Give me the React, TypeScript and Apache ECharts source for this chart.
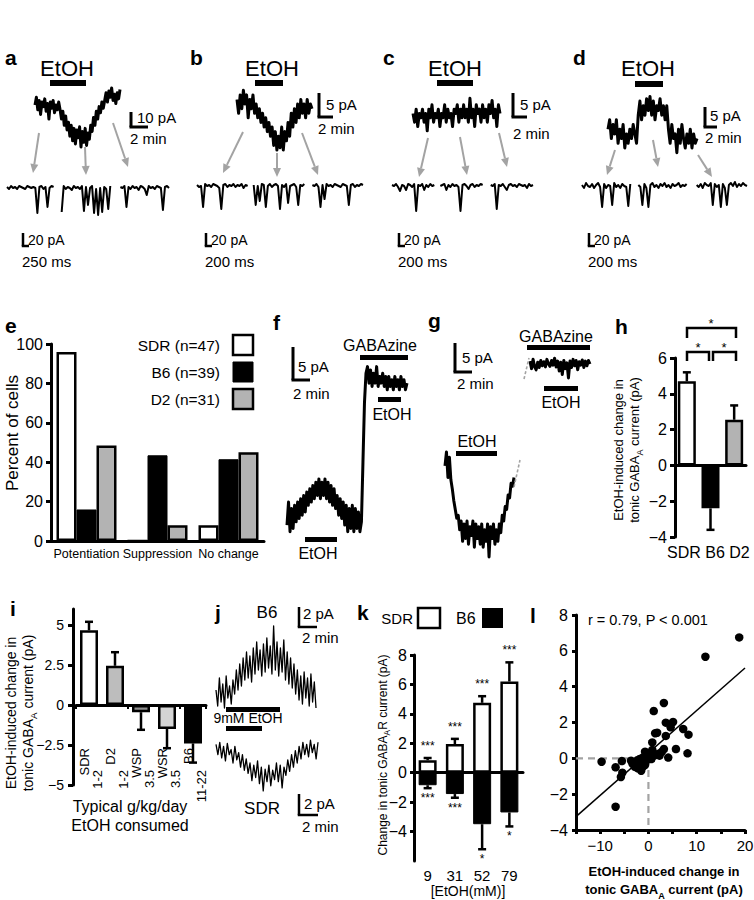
import React, { useEffect, useRef } from 'react';
import * as echarts from 'echarts';

const FONT = "'Liberation Sans', Arial, Helvetica, sans-serif";

// ---------- Panels a-d: tonic current traces (pA) ----------
const traceA = [
  -6, -1, -9, -3, -12, -4, -7, -2, -10, -5, -15, -4, -8, -3, -11, -6, -9, -4,
  -9, -15, -10, -19, -13, -22, -17, -26, -19, -29, -21, -31, -22, -27, -20, -33, -23, -30, -21, -32, -24, -28,
  -19, -23, -14, -19, -10, -15, -7, -11, -4, -8,
  -3, 2, -4, 3, -1, 5, -3, 1, -5, 2, -2, 4,
];
const traceB = [
  -2, -5, -1, -4, 0, -3, -1, -6, -2, -4, -1, -5, -3, -6,
  -4, -7, -5, -8, -6, -9, -7, -10,
  -8, -12, -9, -13, -10, -12.5, -8, -13, -9, -11,
  -7, -10, -5, -8, -4, -7, -3, -6, -2, -5, -3, -6, -2, -5, -3, -4,
];
const traceC = [
  -1, -3, 0, -4, -1, -2, 0, -3, -1, -5, 0, -2, 1, -3, -1, -2, 0, -4, -1, -2, 1, -3, 0, -2, -1, -4, 0, -1,
  1, -3, 0, -2, 1, -2, 0, -3, 2.5, -2, 0, -4, 1, -1, 0, -3, 1, -2, 0, -3, 1, -1, 2, -2, 0, -4, 1, -1,
];
const traceD = [
  -7, -5, -9, -6, -8, -5, -10, -7, -9, -6, -11, -8, -10, -7, -9, -6, -8, -10,
  -4, -1, -5, -2, -4, -0.5, -3, 0, -4, -1, -5, -2, -3, -0.5, -4, -2, -5, -2,
  -7, -10, -6, -9, -8, -12, -7, -10, -6, -9, -11, -8, -10, -7, -11, -8, -10, -9,
];
// sweeps below each trace (null = gap between the three sweeps)
const sweepsA = [
  0, -2, 1, -1, 0, -2, 1, 0, -1, -2, 1, 0, -1, 0, -1, -26, 0, 1, -2, 0, -20, -1, 1, 0,
  null, null, null,
  -25, 1, -2, 0, -1, -3, 1, -1, 0, -2, 1, -24, 0, -18, -1, 1, -26, -2, -28, -1, -25, 0, -2, -22, 1,
  null, null, null, null,
  0, -1, 1, -20, 0, -2, 1, -1, 0, -3, 1, 0, -2, -8, 1, -1, 0, -2, 1, 0, -1, -23, 0, 1, -1,
];
const sweepsB = [
  0, -2, -1, -22, 1, -1, 0, -2, 1, 0, -1, -3, -24, 0, 1, -2, 0, -1, 1, -2, 0, -1, 1, -3, 0, -1,
  null, null,
  0, -20, -1, -16, 1, 0, -22, -1, 1, -2, 0, 1, -1, -24, 0, -2, 1, -18, -1, 0, 1, -2, -20, 0, -1, 1,
  null, null, null,
  0, -1, 1, -2, -22, 0, -14, 1, -1, 0, -2, 1, 0, -1, -2, 1, 0, -1, -20, 0, 1, -2, 0, -1, 1, 0,
];
const sweepsC = [
  0, -1, 1, -2, -6, 0, -1, -5, 1, 0, -2, 1, -26, 0, -1, 1, -5, 0, -2, 1, -1, 0,
  null, null,
  -1, 0, 1, -5, 0, -2, 1, -1, 0, -2, -26, 0, 1, -1, -4, 0, 1, -2, 0, -1, 1, 0,
  null, null, null,
  0, -1, 1, -24, 0, -1, 1, -2, -5, 0, 1, -1, 0, -2, 1, 0, -1, 0, -3, 1, -1, 0,
];
const sweepsD = [
  0, -3, 2, -1, -2, 1, -3, 0, 2, -2, -22, 1, -3, 0, -1, -20, 2, -2, 0, -3, 1, -1, -2, -21, 1,
  null, null, null,
  0, -2, -20, 1, -3, -22, 0, 2, -2, 0, -3, 1, -1, 2, -2, 0, -3, 1, -1, 0, 2, -2, 0, -1, 1,
  null, null, null, null,
  0, -2, 1, -3, 2, 0, -1, 2, -20, 1, -2, 0, -22, 1, -3, -20, 0, 2, -1, 3, -2, 1, -1, 2, 0, -1,
];

// ---------- Panel e ----------
const eCategories = ['Potentiation', 'Suppression', 'No change'];
const eSDR = [96, 0, 8];
const eB6 = [16, 43.5, 41.5];
const eD2 = [48.5, 8, 45];
const eLegend = ['SDR (n=47)', 'B6 (n=39)', 'D2 (n=31)'];

// ---------- Panels f, g ----------
const traceF = [
  -1.5, 2, -2.5, 1, -2, 1.5, -1, 2, -0.5,
  2.5, 0, 3, 0.5, 3.5, 1.5, 4, 2, 4.5,
  2.5, 5, 3, 5.5, 2.5, 5, 3, 5.5, 2.5, 5, 2, 4.5,
  1.5, 4, 1, 3, 0, 2.5, -0.5, 2,
  -1.5, 1.5, -2.5, 1, -2, 1.5, -2.5, 1, -2, 0.5, -2.5, -1,
  8, 17, 21.5,
  22.5, 20, 22, 19.5, 21.5, 20, 22.5, 19.5, 21, 20, 21.5, 19.5, 21, 19, 21, 19.5, 20.5, 19, 21, 19.5, 20.5, 19, 21, 19.5, 20.5, 19, 20,
];
const traceGUpper = [
  0.5, -0.8, 0.8, -0.5, -1, 0.3, -0.6, 0.6, -0.3, 0.4, -0.5, 0.8, 0, -0.4, 0.6, -0.2, 1, -0.5, 0.5, -1.2,
  0.3, -1.8, 0.6, -0.8, 0.2, -2.4, 0.5, -0.6, 0.8, -0.3, 0.6, -1, 0.4, -0.2, 0.7, -0.6, 0.5, -0.3, 0.6, 0,
];
const traceGLower = [
  -1, 1.4, -3, 0.5, -3.4,
  -5, -7, -8.5, -10, -9.5,
  -12, -10.5, -14, -11, -13.5, -10.5, -14.5, -11.5, -13, -10.5, -15, -11, -13.5, -11.5, -14.5, -11, -15, -12, -14, -11, -16.7, -11.5, -13.5, -11, -14.5, -12, -14,
  -11, -12.5, -9.5, -10.5, -8, -8.5, -6, -6.5, -4, -4.5, -3,
];

// ---------- Panel h ----------
const hCategories = ['SDR', 'B6', 'D2'];
const hMeans = [4.7, -2.4, 2.55];
const hErrEnds = [5.2, -3.6, 3.35];

// ---------- Panel i ----------
const iCategories = ['SDR', 'D2', 'WSP', 'WSR', 'B6'];
const iIntake = ['1-2', '1-2', '3.5', '3.5', '11-22'];
const iMeans = [4.67, 2.45, -0.45, -1.5, -2.4];
const iErrEnds = [5.2, 3.3, -1.55, -2.7, -3.6];
const iFill = ['#ffffff', '#bdbdbd', '#8f8f8f', '#d4d4d4', '#000000'];

// ---------- Panel j ----------
const traceJB6 = [
  2.2, 0.6, 3.4, 1, 2.8, 0.4, 3.6, 1.4, 2.6, 0.8, 3.2, 1.8, 4.2, 2.2, 4.8, 2.6, 5.4, 3.2, 6, 3.4,
  5.6, 3, 6.4, 3.8, 7, 4.2, 6.2, 3.6, 6.8, 4, 7.4, 4.4, 6.6, 3.8, 8.6, 4.2, 7, 3.6, 6.4, 4,
  7.2, 3.2, 6, 2.8, 5.4, 2.4, 4.8, 1.8, 4.2, 1.2, 3.6, 0.8, 4, 1.4, 3.4, 0.6, 3.8, 1, 3, 0.4,
];
const traceJSDR = [
  -1, -2, -0.8, -2.3, -1.2, -2.6, -0.9, -2, -1.5, -2.8, -1.2, -2.5, -1.8, -3.2, -2, -3.5, -2.4, -3.8, -2.8, -4.5,
  -3, -4.2, -2.6, -4.8, -3.2, -5.5, -3.4, -4.6, -3, -5, -3.5, -4.4, -2.8, -4.6, -3, -5.2, -3.2, -4, -2.5, -3.6,
  -2, -3.2, -1.6, -2.8, -1.2, -2.4, -0.8, -2, -1, -2.2, -0.6, -1.8, -1, -2.4, -0.8,
];

// ---------- Panel k ----------
const kConc = ['9', '31', '52', '79'];
const kSDR = [0.85, 1.95, 4.75, 6.2];
const kSDRErr = [1.0, 2.3, 5.2, 7.5];
const kB6 = [-0.85, -1.45, -3.5, -2.7];
const kB6Err = [-1.05, -1.7, -5.2, -3.65];
const kSDRStars = ['***', '***', '***', '***'];
const kB6Stars = ['***', '***', '*', '*'];

// ---------- Panel l ----------
const lX = [18.8, 11.8, 3.2, 1.1, 3.6, 5.1, 4.6, 1.4, 1.8, 3.6, 7.2, 8.3, 0.8, 5.7, 3.2, 8.1, 4.1, 2.3, -0.7, 0.8,
  0.3, 0, -1.2, -1.8, -2.3, -2.9, -3.6, -5.5, -9.7, -6.8, -5.4, -5.7, -6.8, -2.8, -2.2, -1.5, -0.7, -1.0, -1.7, -0.3,
  0.6, 1.2, 2.1, 2.8, -3.3, -1.2];
const lY = [6.75, 5.67, 3.09, 2.64, 1.99, 2.03, 1.73, 1.40, 1.43, 1.25, 1.64, 1.32, 0.89, 0.52, 0.52, 0.28, 0.04, 0.15, 0.37, 0.47,
  0.28, 0.09, 0.04, -0.04, -0.11, -0.22, -0.13, -0.15, -0.19, -0.5, -0.8, -1.04, -2.7, -0.47, -0.56, -0.69, -0.37, -0.19, -0.3, -0.09,
  -0.04, 0.15, 0.26, 0.37, -0.30, -0.48];
const lSlope = 0.237;
const lIntercept = 0.3;
const lXRange = [-15, 20];

// ================= option building =================
const GRAY = '#a3a3a3';
const minus = (v: number) => String(v).replace('-', '\u2212');

function buildOption() {
  const grids: any[] = [];
  const xAxes: any[] = [];
  const yAxes: any[] = [];
  const series: any[] = [];
  const els: any[] = [];

  const addGrid = (left: number, top: number, width: number, height: number) => {
    grids.push({ left, top, width, height, containLabel: false, outerBoundsMode: 'none' });
    return grids.length - 1;
  };

  const addTrace = (values: (number | null)[], left: number, top: number, width: number, height: number,
    yMin: number, yMax: number, lw: number) => {
    const gi = addGrid(left, top, width, height);
    const xi = xAxes.length;
    xAxes.push({ type: 'value', gridIndex: gi, min: 0, max: values.length - 1, show: false });
    const yi = yAxes.length;
    yAxes.push({ type: 'value', gridIndex: gi, min: yMin, max: yMax, show: false });
    series.push({
      type: 'line', xAxisIndex: xi, yAxisIndex: yi, showSymbol: false, symbol: 'none', clip: false, silent: true,
      data: values.map((v, i) => [i, v == null ? '-' : v]),
      lineStyle: { color: '#000', width: lw, join: 'round' },
    });
  };

  const axLine = { show: true, onZero: false, lineStyle: { color: '#000', width: 3 } };
  const axTick = (len = 5) => ({ show: true, inside: false, length: len, lineStyle: { color: '#000', width: 3 } });
  const axLabel = (size: number, margin: number) => ({ color: '#000', fontSize: size, fontFamily: FONT, margin, formatter: minus });

  const errSeries = (xi: number, yi: number, means: number[], ends: number[], cap = 4) => ({
    type: 'custom', xAxisIndex: xi, yAxisIndex: yi, silent: true, z: 3,
    data: means.map((m, i) => [i, m, ends[i]]),
    renderItem: (_p: any, api: any) => {
      const a = api.coord([api.value(0), api.value(1)]);
      const b = api.coord([api.value(0), api.value(2)]);
      return {
        type: 'group', children: [
          { type: 'line', shape: { x1: a[0], y1: a[1], x2: b[0], y2: b[1] }, style: { stroke: '#000', lineWidth: 2.5 } },
          { type: 'line', shape: { x1: b[0] - cap, y1: b[1], x2: b[0] + cap, y2: b[1] }, style: { stroke: '#000', lineWidth: 2.5 } },
        ],
      };
    },
  });

  const starSeries = (xi: number, yi: number, ends: number[], labels: string[], dy: number) => ({
    type: 'custom', xAxisIndex: xi, yAxisIndex: yi, silent: true, z: 4,
    data: ends.map((e, i) => [i, e]),
    renderItem: (p: any, api: any) => {
      const c = api.coord([api.value(0), api.value(1)]);
      return {
        type: 'text', x: c[0], y: c[1] + dy,
        style: { text: labels[p.dataIndex], fontSize: 12, fontFamily: FONT, fill: '#000', align: 'center', verticalAlign: 'middle' },
      };
    },
  });

  // ---- traces a-d ----
  addTrace(traceA, 35, 88, 85, 59, -33, 5, 3);
  addTrace(traceB, 237, 88, 75, 62, -13, 0.5, 3);
  addTrace(traceC, 413, 97, 87, 36, -5.5, 2.8, 3);
  addTrace(traceD, 608, 95, 89, 60, -12.5, 0.3, 3);
  addTrace(sweepsA, 7, 183, 162, 32, -28, 4, 2);
  addTrace(sweepsB, 197, 181, 166, 32, -28, 4, 2);
  addTrace(sweepsC, 392, 181, 141, 32, -28, 4, 2);
  addTrace(sweepsD, 582, 181, 165, 32, -28, 4, 2);

  // ---- f, g traces ----
  addTrace(traceF, 287, 362, 120, 175, -3.3, 23.2, 3);
  addTrace(traceGUpper, 530, 355, 60, 27, -3.1, 1.55, 3);
  addTrace(traceGLower, 445, 452, 69, 105, -16.7, 1.4, 3);

  // ---- j traces ----
  addTrace(traceJB6, 216, 622, 100, 90, 0, 9, 1.3);
  addTrace(traceJSDR, 216, 734, 102, 58, -5.6, 0, 1.3);

  // ---- e: percent of cells ----
  {
    const gi = addGrid(51, 344, 213, 197);
    const xi = xAxes.length;
    xAxes.push({
      type: 'category', gridIndex: gi, data: eCategories,
      axisLine: { show: true, onZero: true, lineStyle: { color: '#000', width: 3 } },
      axisTick: { show: false }, axisLabel: { color: '#000', fontSize: 12.5, fontFamily: FONT, margin: 6, interval: 0 },
    });
    const yi = yAxes.length;
    yAxes.push({
      type: 'value', gridIndex: gi, min: 0, max: 100, interval: 20,
      axisLine: axLine, axisTick: axTick(5), axisLabel: axLabel(16, 8), splitLine: { show: false },
    });
    const base = { type: 'bar', xAxisIndex: xi, yAxisIndex: yi, barWidth: 20, barGap: '0%', silent: true };
    series.push({ ...base, name: 'SDR', data: eSDR, itemStyle: { color: '#fff', borderColor: '#000', borderWidth: 2.5 } });
    series.push({ ...base, name: 'B6', data: eB6, itemStyle: { color: '#000', borderColor: '#000', borderWidth: 1 } });
    series.push({ ...base, name: 'D2', data: eD2, itemStyle: { color: '#b3b3b3', borderColor: '#000', borderWidth: 2.5 } });
  }

  // ---- h ----
  {
    const gi = addGrid(675, 358, 71, 179);
    const xi = xAxes.length;
    xAxes.push({
      type: 'category', gridIndex: gi, data: hCategories,
      axisLine: { show: true, onZero: true, lineStyle: { color: '#000', width: 3 } },
      axisTick: { show: false }, axisLabel: { show: false },
    });
    const yi = yAxes.length;
    yAxes.push({
      type: 'value', gridIndex: gi, min: -4, max: 6, interval: 2,
      axisLine: axLine, axisTick: axTick(5), axisLabel: axLabel(16, 8), splitLine: { show: false },
    });
    series.push({
      type: 'bar', xAxisIndex: xi, yAxisIndex: yi, barWidth: 18, silent: true, z: 2,
      data: hMeans.map((v, k) => ({
        value: v,
        itemStyle: { color: ['#fff', '#000', '#b3b3b3'][k], borderColor: '#000', borderWidth: 2.5 },
      })),
    });
    series.push(errSeries(xi, yi, hMeans, hErrEnds));
  }

  // ---- i ----
  const iLeft = 76, iWidth = 130;
  {
    const gi = addGrid(iLeft, 609, iWidth, 176);
    const xi = xAxes.length;
    xAxes.push({
      type: 'category', gridIndex: gi, data: iCategories,
      axisLine: { show: true, onZero: true, lineStyle: { color: '#000', width: 3 } },
      axisTick: { show: true, length: 4, lineStyle: { color: '#000', width: 2 } }, axisLabel: { show: false },
    });
    const yi = yAxes.length;
    yAxes.push({
      type: 'value', gridIndex: gi, min: -5, max: 6, offset: 3,
      axisLine: axLine,
      axisTick: { ...axTick(5), customValues: [-5, -2.5, 0, 2.5, 5] },
      axisLabel: { ...axLabel(14, 9), customValues: [-5, -2.5, 0, 2.5, 5] },
      splitLine: { show: false },
    });
    series.push({
      type: 'bar', xAxisIndex: xi, yAxisIndex: yi, barWidth: 18, silent: true, z: 2,
      data: iMeans.map((v, k) => ({ value: v, itemStyle: { color: iFill[k], borderColor: '#000', borderWidth: 2.5 } })),
    });
    series.push(errSeries(xi, yi, iMeans, iErrEnds));
  }

  // ---- k ----
  {
    const gi = addGrid(414, 655, 109, 206);
    const xi = xAxes.length;
    xAxes.push({
      type: 'category', gridIndex: gi, data: kConc,
      axisLine: { show: true, onZero: true, lineStyle: { color: '#000', width: 3 } },
      axisTick: { show: false }, axisLabel: { show: false },
    });
    const xi2 = xAxes.length;
    xAxes.push({
      type: 'category', gridIndex: gi, data: kConc, position: 'bottom',
      axisLine: { show: false, onZero: false }, axisTick: { show: false },
      axisLabel: { color: '#000', fontSize: 15, fontFamily: FONT, margin: 7, interval: 0 },
    });
    const yi = yAxes.length;
    yAxes.push({
      type: 'value', gridIndex: gi, min: -6, max: 8, interval: 2,
      axisLine: axLine,
      axisTick: { ...axTick(4), customValues: [-4, -2, 0, 2, 4, 6, 8] },
      axisLabel: { ...axLabel(16, 7), customValues: [-4, -2, 0, 2, 4, 6, 8] },
      splitLine: { show: false },
    });
    series.push({
      type: 'bar', xAxisIndex: xi, yAxisIndex: yi, barWidth: 18, barGap: '-100%', silent: true, z: 2,
      data: kSDR, itemStyle: { color: '#fff', borderColor: '#000', borderWidth: 2.5 },
    });
    series.push({
      type: 'bar', xAxisIndex: xi, yAxisIndex: yi, barWidth: 18, barGap: '-100%', silent: true, z: 2,
      data: kB6, itemStyle: { color: '#000', borderColor: '#000', borderWidth: 1 },
    });
    series.push({ type: 'bar', xAxisIndex: xi2, yAxisIndex: yi, data: kConc.map(() => 0), silent: true, barWidth: 1, itemStyle: { color: 'transparent' } });
    series.push(errSeries(xi, yi, kSDR, kSDRErr));
    series.push(errSeries(xi, yi, kB6, kB6Err));
    series.push(starSeries(xi, yi, kSDRErr, kSDRStars, -12));
    series.push(starSeries(xi, yi, kB6Err, kB6Stars, 10));
  }

  // ---- l ----
  {
    const gi = addGrid(576, 615, 169, 215);
    const xi = xAxes.length;
    xAxes.push({
      type: 'value', gridIndex: gi, min: lXRange[0], max: lXRange[1],
      axisLine: axLine,
      axisTick: { ...axTick(4), customValues: [-15, -10, -5, 0, 5, 10, 15, 20] },
      axisLabel: { ...axLabel(15, 8), customValues: [-10, 0, 10, 20] },
      splitLine: { show: false },
    });
    const yi = yAxes.length;
    yAxes.push({
      type: 'value', gridIndex: gi, min: -4, max: 8, interval: 2,
      axisLine: axLine, axisTick: axTick(4), axisLabel: axLabel(16, 8), splitLine: { show: false },
    });
    series.push({
      type: 'line', xAxisIndex: xi, yAxisIndex: yi, silent: true, showSymbol: false, symbol: 'none',
      data: [[lXRange[0], 0], [0, 0], [0, -4]],
      lineStyle: { color: GRAY, width: 2.2, type: [7, 5] }, z: 1,
    });
    series.push({
      type: 'line', xAxisIndex: xi, yAxisIndex: yi, silent: true, showSymbol: false, symbol: 'none',
      data: lXRange.map((x) => [x, lSlope * x + lIntercept]),
      lineStyle: { color: '#000', width: 1.5 }, z: 2,
    });
    series.push({
      type: 'scatter', xAxisIndex: xi, yAxisIndex: yi, silent: true, symbolSize: 8.5,
      data: lX.map((x, i) => [x, lY[i]]), itemStyle: { color: '#000', opacity: 1 }, z: 3,
    });
  }

  // ================= graphic annotations =================
  const T = (text: string, x: number, y: number, size: number, o: any = {}) => ({
    type: 'text', x, y, rotation: o.rot || 0, silent: true, z: 100,
    style: {
      text, fontSize: size, fontFamily: FONT, fontWeight: o.bold ? 'bold' : 'normal', fill: '#000',
      align: o.align || 'left', verticalAlign: o.va || 'middle', rich: o.rich, lineHeight: o.lh,
    },
  });
  const Ln = (x1: number, y1: number, x2: number, y2: number, w = 3, color = '#000', dash?: number[]) => ({
    type: 'line', silent: true, z: 100, shape: { x1, y1, x2, y2 }, style: { stroke: color, lineWidth: w, lineDash: dash },
  });
  const Rc = (x: number, y: number, w: number, h: number, fill = '#000', stroke?: string, sw?: number) => ({
    type: 'rect', silent: true, z: 100, shape: { x, y, width: w, height: h }, style: { fill, stroke, lineWidth: sw },
  });
  const scaleL = (x: number, yTop: number, yBot: number, xRight: number, w = 3) => [
    Ln(x, yTop, x, yBot, w), Ln(x - w / 2, yBot, xRight, yBot, w),
  ];
  const arrow = (x1: number, y1: number, x2: number, y2: number) => {
    const ang = Math.atan2(y2 - y1, x2 - x1);
    const len = 9, half = 4;
    const bx = x2 - len * Math.cos(ang), by = y2 - len * Math.sin(ang);
    const px = -Math.sin(ang) * half, py = Math.cos(ang) * half;
    return [
      Ln(x1, y1, bx, by, 2, GRAY),
      { type: 'polygon', silent: true, z: 100, shape: { points: [[x2, y2], [bx + px, by + py], [bx - px, by - py]] }, style: { fill: GRAY } },
    ];
  };
  const sub = (size: number, bold = false) => ({
    sub: { fontSize: size * 0.7, fontFamily: FONT, fontWeight: bold ? 'bold' : 'normal', fill: '#000', verticalAlign: 'bottom', padding: [0, 0, -2, 0] },
  });
  const ROT = Math.PI / 2;
  const LETTER = 21;

  // panel a
  els.push(T('a', 5, 57, LETTER, { bold: true }), T('EtOH', 67, 68, 22, { align: 'center' }), Rc(50, 80, 36, 6));
  els.push(...scaleL(131, 112, 127, 148), T('10 pA', 137, 117, 15), T('2 min', 130, 138, 15));
  els.push(...arrow(39, 133, 33, 173), ...arrow(85, 147, 86, 175), ...arrow(113, 123, 128, 167));
  els.push(...scaleL(23, 233, 246, 29, 2.5), T('20 pA', 28, 240, 14), T('250 ms', 22, 261, 15));
  // panel b
  els.push(T('b', 190, 57, LETTER, { bold: true }), T('EtOH', 272, 68, 22, { align: 'center' }), Rc(255, 80, 28, 6));
  els.push(...scaleL(319, 93, 117, 333), T('5 pA', 326, 104, 15), T('2 min', 318, 128, 15));
  els.push(...arrow(243, 132, 223, 173), ...arrow(277, 153, 277, 177), ...arrow(302, 133, 318, 175));
  els.push(...scaleL(206, 233, 246, 212, 2.5), T('20 pA', 211, 240, 14), T('200 ms', 205, 261, 15));
  // panel c
  els.push(T('c', 383, 57, LETTER, { bold: true }), T('EtOH', 455, 68, 22, { align: 'center' }), Rc(437, 80, 36, 6));
  els.push(...scaleL(513, 93, 117, 527), T('5 pA', 520, 104, 15), T('2 min', 513, 133, 15));
  els.push(...arrow(428, 138, 419, 177), ...arrow(460, 137, 467, 175), ...arrow(499, 133, 507, 167));
  els.push(...scaleL(399, 233, 246, 405, 2.5), T('20 pA', 404, 240, 14), T('200 ms', 398, 261, 15));
  // panel d
  els.push(T('d', 573, 57, LETTER, { bold: true }), T('EtOH', 648, 68, 22, { align: 'center' }), Rc(635, 81, 28, 6));
  els.push(...scaleL(705, 107, 127, 717), T('5 pA', 710, 115, 15), T('2 min', 705, 137, 15));
  els.push(...arrow(615, 150, 607, 175), ...arrow(653, 140, 658, 167), ...arrow(698, 155, 712, 177));
  els.push(...scaleL(589, 233, 246, 595, 2.5), T('20 pA', 594, 240, 14), T('200 ms', 588, 261, 15));

  // panel e
  els.push(T('e', 5, 325, LETTER, { bold: true }));
  els.push(T('Percent of cells', 12, 433, 17, { rot: ROT, align: 'center' }));
  const eBoxes = [['#fff', 2.5], ['#000', 0], ['#b3b3b3', 2.5]] as any[];
  eLegend.forEach((lab, k) => {
    const y = 345 + k * 27;
    els.push(T(lab, 220, y, 15.5, { align: 'right' }));
    els.push(Rc(233, y - 10, 20, 20, eBoxes[k][0], '#000', eBoxes[k][1] || 1));
  });

  // panel f
  els.push(T('f', 273, 322, LETTER, { bold: true }));
  els.push(...scaleL(293, 347, 380, 310), T('5 pA', 298, 366, 15), T('2 min', 293, 393, 15));
  els.push(T('GABAzine', 380, 345, 16, { align: 'center' }), Rc(360, 355, 48, 5));
  els.push(Rc(378, 397, 23, 5), T('EtOH', 392, 414, 16, { align: 'center' }));
  els.push(Rc(305, 537, 32, 5), T('EtOH', 318, 553, 16, { align: 'center' }));

  // panel g
  els.push(T('g', 428, 320, LETTER, { bold: true }));
  els.push(...scaleL(455, 343, 372, 472), T('5 pA', 462, 357, 15), T('2 min', 457, 383, 15));
  els.push(T('GABAzine', 556, 336, 16, { align: 'center' }), Rc(527, 345, 63, 5));
  els.push(Rc(544, 386, 34, 5), T('EtOH', 561, 402, 16, { align: 'center' }));
  els.push(T('EtOH', 477, 441, 16, { align: 'center' }), Rc(456, 451, 41, 5));
  els.push(Ln(524, 379, 529, 358, 1.6, GRAY, [3, 2]), Ln(514, 487, 520, 460, 1.6, GRAY, [3, 2]));

  // panel h
  els.push(T('h', 615, 326, LETTER, { bold: true }));
  els.push({ type: 'polyline', silent: true, z: 100, shape: { points: [[687, 338], [687, 328], [736, 328], [736, 338]] }, style: { stroke: '#000', lineWidth: 2.5, fill: null } });
  els.push({ type: 'polyline', silent: true, z: 100, shape: { points: [[687, 361], [687, 352], [709, 352], [709, 361]] }, style: { stroke: '#000', lineWidth: 2.5, fill: null } });
  els.push({ type: 'polyline', silent: true, z: 100, shape: { points: [[713, 361], [713, 352], [736, 352], [736, 361]] }, style: { stroke: '#000', lineWidth: 2.5, fill: null } });
  els.push(T('*', 711, 323, 13, { align: 'center' }), T('*', 698, 347, 13, { align: 'center' }), T('*', 724, 347, 13, { align: 'center' }));
  els.push(T('EtOH-induced change in\ntonic GABA{sub|A} current (pA)', 626, 450, 13, { rot: ROT, align: 'center', lh: 16, rich: sub(13) }));
  els.push(T(hCategories.join(' '), 667, 552, 16));

  // panel i
  els.push(T('i', 10, 608, LETTER, { bold: true }));
  els.push(T('EtOH-induced change in\ntonic GABA{sub|A} current (pA)', 19, 713, 14, { rot: ROT, align: 'center', lh: 17, rich: sub(14) }));
  const band = iWidth / iCategories.length;
  iCategories.forEach((c, k) => {
    const cx = iLeft + band * (k + 0.5);
    els.push(T(c, cx - 5, 748, 13, { rot: ROT, align: 'right' }));
    els.push(T(iIntake[k], cx + 8, 770, 13, { rot: ROT, align: 'right' }));
  });
  els.push(T('Typical g/kg/day', 130, 806, 16, { align: 'center' }), T('EtOH consumed', 130, 825, 16, { align: 'center' }));

  // panel j
  els.push(T('j', 215, 612, LETTER, { bold: true }), T('B6', 267, 612, 17, { align: 'center' }));
  els.push(...scaleL(299, 607, 627, 317, 2.5), T('2 pA', 303, 613, 15), T('2 min', 302, 637, 15));
  els.push(Rc(226, 707, 54, 5), T('9mM EtOH', 248, 718, 14, { align: 'center' }), Rc(226, 726, 36, 5));
  els.push(T('SDR', 262, 808, 17, { align: 'center' }));
  els.push(...scaleL(299, 794, 815, 318, 2.5), T('2 pA', 304, 803, 15), T('2 min', 302, 826, 15));

  // panel k
  els.push(T('k', 357, 612, LETTER, { bold: true }));
  els.push(T('SDR', 413, 618, 15, { align: 'right' }), Rc(418, 608, 22, 20, '#fff', '#000', 2.5), T('B6', 456, 618, 16), Rc(482, 608, 21, 20, '#000'));
  els.push(T('Change in tonic GABA{sub|A}R current (pA)', 383, 755, 12, { rot: ROT, align: 'center', rich: sub(12) }));
  els.push(T('[EtOH(mM)]', 468, 891, 14, { align: 'center' }));

  // panel l
  els.push(T('l', 530, 615, LETTER, { bold: true }));
  els.push(T('r = 0.79, P < 0.001', 588, 620, 14.5));
  els.push(T('EtOH-induced change in\ntonic GABA{sub|A} current (pA)', 664, 880, 13, { bold: true, align: 'center', lh: 18, rich: sub(13, true) }));

  return {
    animation: false,
    backgroundColor: '#fff',
    textStyle: { fontFamily: FONT },
    grid: grids,
    xAxis: xAxes,
    yAxis: yAxes,
    series,
    graphic: { elements: els },
  };
}

export default function App() {
  const ref = useRef<HTMLDivElement>(null);
  useEffect(() => {
    if (!ref.current) return;
    const chart = echarts.init(ref.current, null, { renderer: 'svg' });
    chart.setOption(buildOption() as any);
    return () => chart.dispose();
  }, []);
  return (
    <div
      ref={ref}
      style={{ position: 'absolute', left: 0, top: 0, width: 754, height: 900, background: '#fff' }}
    />
  );
}
